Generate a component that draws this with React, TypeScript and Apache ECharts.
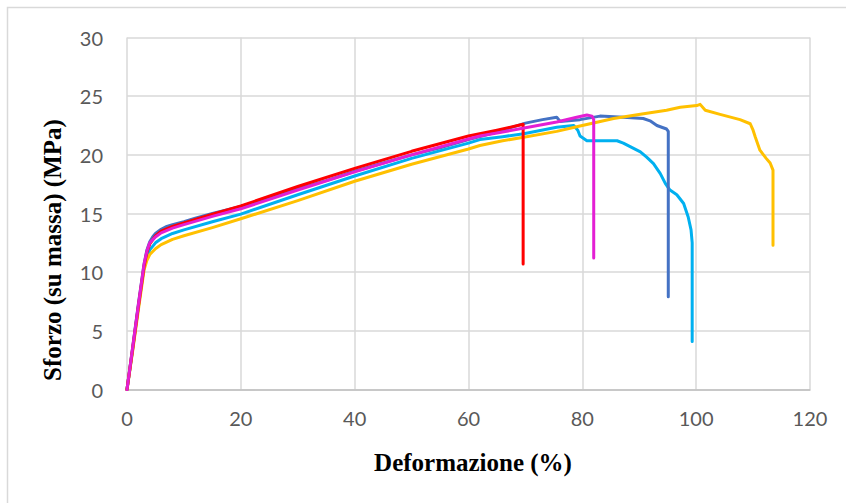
import React, { useEffect, useRef } from "react";
import * as echarts from "echarts";

const xTicks = [0, 20, 40, 60, 80, 100, 120];
const yTicks = [0, 5, 10, 15, 20, 25, 30];

const seriesNames = ["Cyan", "Blu", "Giallo", "Rosso", "Magenta"];

const cyanData: [number, number][] = [
  [0, 0], [1, 3.4], [2, 7.0], [3, 10.4], [3.5, 11.3], [4, 11.9], [5, 12.5], [6, 12.85], [8, 13.3], [10, 13.6],
  [15, 14.3], [20, 14.95], [30, 16.6], [40, 18.2], [50, 19.7], [60, 21.0], [62, 21.3], [66, 21.55], [69.7, 21.8],
  [75.5, 22.35], [78.5, 22.5], [79.2, 22.1], [79.6, 21.6], [80.8, 21.2], [82.5, 21.2], [86.1, 21.2], [87.2, 21.0],
  [88.4, 20.7], [90.2, 20.25], [91.3, 19.8], [92.5, 19.25], [93.7, 18.4], [94.6, 17.55], [95.4, 17.0], [96.6, 16.6],
  [97.8, 15.85], [98.6, 14.7], [99.1, 13.6], [99.3, 12.5], [99.3, 4.1],
];

const blueData: [number, number][] = [
  [0, 0], [1, 3.6], [2, 7.3], [3, 10.7], [3.5, 11.9], [4, 12.6], [4.5, 13.0], [5, 13.3], [6, 13.65], [7, 13.9],
  [8, 14.05], [10, 14.3], [12, 14.6], [15, 15.0], [20, 15.6], [25, 16.3], [30, 17.1], [35, 17.8], [40, 18.6],
  [45, 19.3], [50, 20.0], [55, 20.6], [60, 21.3], [65, 21.95], [70, 22.7], [73, 23.0], [75.5, 23.2], [76.1, 22.85],
  [79.6, 23.0], [83.1, 23.3], [87.2, 23.2], [90.7, 23.1], [91.9, 22.9], [93.1, 22.5], [94.8, 22.2], [95.1, 22.0],
  [95.1, 7.9],
];

const yellowData: [number, number][] = [
  [0, 0], [1, 3.3], [2, 6.8], [3, 10.2], [3.5, 11.0], [4, 11.5], [5, 12.0], [6, 12.35], [8, 12.8], [10, 13.1],
  [15, 13.8], [20, 14.55], [30, 16.1], [40, 17.75], [50, 19.2], [60, 20.5], [62, 20.8], [66, 21.2], [69.7, 21.5],
  [75.5, 22.0], [79, 22.4], [85.5, 23.1], [90.2, 23.45], [94.8, 23.8], [97.2, 24.05], [100.1, 24.2], [100.7, 24.3],
  [101.6, 23.8], [104.2, 23.45], [107.7, 23.0], [109.5, 22.65], [110.0, 22.1], [110.4, 21.5], [111.2, 20.4],
  [112.3, 19.7], [113.0, 19.3], [113.5, 18.7], [113.5, 12.3],
];

const redData: [number, number][] = [
  [0, 0], [1, 3.5], [2, 7.1], [3, 10.5], [3.5, 11.7], [4, 12.4], [5, 13.1], [6, 13.5], [8, 13.9], [10, 14.2],
  [15, 14.95], [20, 15.65], [30, 17.3], [40, 18.85], [50, 20.3], [60, 21.6], [65, 22.1], [69.6, 22.6], [69.6, 10.7],
];

const magentaData: [number, number][] = [
  [0, 0], [1, 3.6], [2, 7.2], [3, 10.7], [3.5, 11.8], [4, 12.5], [5, 13.0], [6, 13.35], [8, 13.75], [10, 14.05],
  [15, 14.75], [20, 15.4], [30, 17.0], [40, 18.55], [50, 20.0], [60, 21.35], [62, 21.6], [66, 21.95], [70, 22.3],
  [75.5, 22.8], [79, 23.2], [80.8, 23.4], [81.7, 23.3], [82.0, 23.0], [82.0, 11.2],
];

const seriesData = [cyanData, blueData, yellowData, redData, magentaData];
const seriesColors = ["#00B0F0", "#4472C4", "#FFC000", "#FF0000", "#E41FD4"];

export default function App() {
  const ref = useRef<HTMLDivElement>(null);
  useEffect(() => {
    if (!ref.current) return;
    const chart = echarts.init(ref.current, undefined, { renderer: "svg" });
    chart.setOption({
      animation: false,
      backgroundColor: "#FFFFFF",
      grid: { left: 127, right: 36, top: 37.5, bottom: 113.5, containLabel: false },
      xAxis: {
        type: "value",
        min: xTicks[0],
        max: xTicks[xTicks.length - 1],
        interval: 20,
        axisLine: { show: true, lineStyle: { color: "#BFBFBF", width: 1.5 } },
        axisTick: { show: false },
        splitLine: { show: true, lineStyle: { color: "#D9D9D9", width: 1.5 } },
        axisLabel: { color: "#595959", fontFamily: "Lato", fontSize: 20, margin: 18 },
      },
      yAxis: {
        type: "value",
        min: yTicks[0],
        max: yTicks[yTicks.length - 1],
        interval: 5,
        axisLine: { show: false },
        axisTick: { show: false },
        splitLine: { show: true, lineStyle: { color: "#D9D9D9", width: 1.5 } },
        axisLabel: { color: "#595959", fontFamily: "Lato", fontSize: 20, margin: 24 },
      },
      series: seriesData.map((d, i) => ({
        name: seriesNames[i],
        type: "line",
        data: d,
        showSymbol: false,
        symbol: "none",
        lineStyle: { color: seriesColors[i], width: 3, cap: "round", join: "round" },
        itemStyle: { color: seriesColors[i] },
        z: 2 + i,
      })),
      graphic: [
        {
          type: "rect",
          shape: { x: 7.5, y: 7.5, width: 900, height: 600 },
          style: { fill: "none", stroke: "#D9D9D9", lineWidth: 1.5 },
          silent: true,
        },
        {
          type: "text",
          x: 473,
          y: 462,
          style: {
            text: "Deformazione (%)",
            font: 'bold 25px "Liberation Serif"',
            fill: "#000000",
            textAlign: "center",
            textVerticalAlign: "middle",
          },
        },
        {
          type: "text",
          x: 52,
          y: 250,
          rotation: Math.PI / 2,
          style: {
            text: "Sforzo (su massa) (MPa)",
            font: 'bold 25px "Liberation Serif"',
            fill: "#000000",
            textAlign: "center",
            textVerticalAlign: "middle",
          },
        },
      ],
    });
    return () => chart.dispose();
  }, []);
  return (
    <div
      ref={ref}
      style={{ position: "absolute", left: 0, top: 0, width: 846, height: 503, background: "#fff" }}
    />
  );
}
